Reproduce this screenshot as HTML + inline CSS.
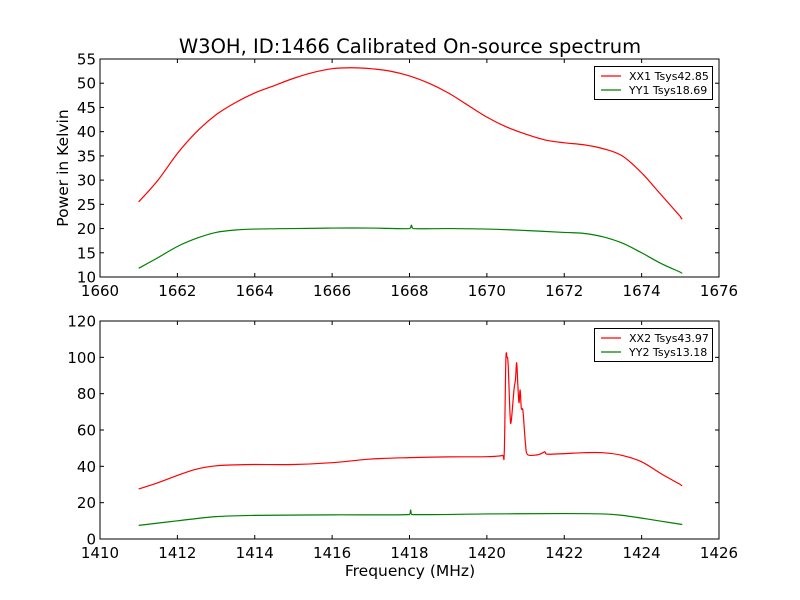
<!DOCTYPE html>
<html><head><meta charset="utf-8"><style>
body{margin:0;background:#fff;}
svg{display:block;font-family:"DejaVu Sans","Liberation Sans",sans-serif;}
</style></head><body>
<svg id="chart" width="800" height="600"></svg>
<script>
const xx1F=[1661,1661.5,1662,1662.5,1663,1663.5,1664,1664.5,1665,1665.5,1666,1666.5,1667,1667.5,1668,1668.5,1669,1669.5,1670,1670.5,1671,1671.5,1672,1672.5,1673,1673.5,1674,1674.5,1675,1675.05];
const xx1V=[25.5,30,35.5,40,43.5,46,48,49.5,51,52.2,53,53.2,53,52.5,51.5,50,48,45.5,43,41,39.5,38.3,37.7,37.3,36.5,35,31.5,27,22.5,22];
const yy1F=[1661,1661.5,1662,1662.5,1663,1663.5,1664,1665,1666,1667,1668,1668.05,1668.1,1669,1670,1671,1672,1672.5,1673,1673.5,1674,1674.5,1675,1675.05];
const yy1V=[11.8,14,16.3,18,19.2,19.7,19.9,20,20.1,20.1,20,20.7,20,20,19.9,19.6,19.2,19,18.3,17,15,12.8,11,10.8];
const xx2F=[1411,1411.5,1412,1412.5,1413,1413.5,1414,1415,1416,1417,1418,1419,1420,1420.4,1420.45,1420.49,1420.52,1420.55,1420.6,1420.63,1420.7,1420.74,1420.77,1420.8,1420.83,1420.86,1420.89,1420.93,1420.97,1421.0,1421.05,1421.3,1421.45,1421.5,1421.55,1422,1422.5,1423,1423.5,1424,1424.5,1425,1425.05];
const xx2V=[27.5,31,35,38.5,40.3,40.8,41,41,42,44,44.8,45.2,45.3,46,48,98,100,96,68,65,82,88,97,85,75,82,72,71,60,52,46.5,46.3,47.5,48,46.7,47,47.5,47.5,46,42.5,36,30,29.5];
const yy2F=[1411,1412,1413,1414,1416,1418,1418.03,1418.06,1420,1422,1423,1423.5,1424,1424.5,1425.05];
const yy2V=[7.5,10,12.3,13,13.3,13.5,16,13.5,13.8,14,13.8,13,11.5,9.8,8];
const topXTicks=[1660,1662,1664,1666,1668,1670,1672,1674,1676];
const topYTicks=[10,15,20,25,30,35,40,45,50,55];
const botXTicks=[1410,1412,1414,1416,1418,1420,1422,1424,1426];
const botYTicks=[0,20,40,60,80,100,120];

const NS="http://www.w3.org/2000/svg";
const svg=document.getElementById('chart');
function el(tag,attrs,parent){const e=document.createElementNS(NS,tag);for(const k in attrs)e.setAttribute(k,attrs[k]);(parent||svg).appendChild(e);return e;}
function txt(s,attrs,parent){const t=el('text',attrs,parent);t.textContent=s;return t;}
function smoothPath(P){
  let d='M'+P[0][0].toFixed(2)+','+P[0][1].toFixed(2);
  for(let i=0;i<P.length-1;i++){
    const p0=P[Math.max(0,i-1)],p1=P[i],p2=P[i+1],p3=P[Math.min(P.length-1,i+2)];
    const c1=[p1[0]+(p2[0]-p0[0])/6,p1[1]+(p2[1]-p0[1])/6];
    const c2=[p2[0]-(p3[0]-p1[0])/6,p2[1]-(p3[1]-p1[1])/6];
    c1[0]=Math.min(Math.max(c1[0],p1[0]),p2[0]);c2[0]=Math.min(Math.max(c2[0],p1[0]),p2[0]);
    d+='C'+c1.map(v=>v.toFixed(2)).join(',')+' '+c2.map(v=>v.toFixed(2)).join(',')+' '+p2.map(v=>v.toFixed(2)).join(',');
  }
  return d;
}
function panel(name,x0,x1,y0,y1,xmin,xmax,ymin,ymax,xt,yt,series,legend){
  const g=el('g',{});
  
  
  const sx=v=>x0+(v-xmin)/(xmax-xmin)*(x1-x0);
  const sy=v=>y1-(v-ymin)/(ymax-ymin)*(y1-y0);
  series.forEach(s=>{
    const P=s.f.map((f,i)=>[sx(f),sy(s.v[i])]);
    const p=el('path',{d:smoothPath(P),fill:'none',stroke:s.c,'stroke-width':1.2},g);
    
    
  });
  const fr=el('rect',{x:x0,y:y0,width:x1-x0,height:y1-y0,fill:'none',stroke:'#000','stroke-width':1},g);
  
  
  xt.forEach(v=>{const x=sx(v);
    el('line',{x1:x,x2:x,y1:y1,y2:y1-4,stroke:'#000'},g);
    el('line',{x1:x,x2:x,y1:y0,y2:y0+4,stroke:'#000'},g);
    const t=txt(String(v),{x:x,y:y1+19,'text-anchor':'middle','font-size':15},g);
    
    });
  yt.forEach(v=>{const y=sy(v);
    el('line',{x1:x0,x2:x0+4,y1:y,y2:y,stroke:'#000'},g);
    el('line',{x1:x1,x2:x1-4,y1:y,y2:y,stroke:'#000'},g);
    const t=txt(String(v),{x:x0-4,y:y+5.5,'text-anchor':'end','font-size':15},g);
    
    });
  const lg=el('g',{},g);
  
  
  el('rect',{x:594.5,y:y0+7.5,width:118,height:33,fill:'#fff',stroke:'#000'},lg);
  legend.forEach((l,i)=>{const y=y0+17+i*14;
    el('line',{x1:601,x2:621,y1:y,y2:y,stroke:l.c,'stroke-width':1.2},lg);
    const t=txt(l.t,{x:629,y:y+4,'font-size':11},lg);
    
    });
}
panel('top-panel',100,719,59,277,1660,1676,10,55,topXTicks,topYTicks,
 [{f:xx1F,v:xx1V,c:'#ff0000',name:'xx1-line'},{f:yy1F,v:yy1V,c:'#008000',name:'yy1-line'}],
 [{c:'#ff0000',t:'XX1 Tsys42.85'},{c:'#008000',t:'YY1 Tsys18.69'}]);
panel('bottom-panel',100,719,321,539,1410,1426,0,120,botXTicks,botYTicks,
 [{f:xx2F,v:xx2V,c:'#ff0000',name:'xx2-line'},{f:yy2F,v:yy2V,c:'#008000',name:'yy2-line'}],
 [{c:'#ff0000',t:'XX2 Tsys43.97'},{c:'#008000',t:'YY2 Tsys13.18'}]);
let t=txt('W3OH, ID:1466 Calibrated On-source spectrum',{x:410,y:53,'text-anchor':'middle','font-size':19.5});


t=txt('Power in Kelvin',{x:68,y:168,'text-anchor':'middle','font-size':15.5,transform:'rotate(-90 68 168)'});


t=txt('Frequency (MHz)',{x:410,y:576,'text-anchor':'middle','font-size':15.5});


</script>
</body></html>
